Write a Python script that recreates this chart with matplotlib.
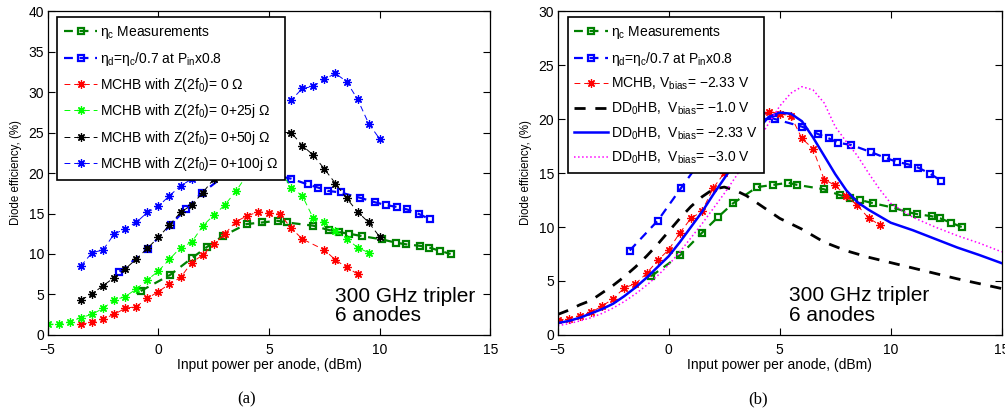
import matplotlib
matplotlib.use("Agg")
import matplotlib.pyplot as plt

plt.rcParams['font.family'] = ['Liberation Sans', 'DejaVu Sans']
plt.rcParams['mathtext.fontset'] = 'custom'
plt.rcParams['mathtext.rm'] = 'Liberation Sans'
plt.rcParams['mathtext.it'] = 'Liberation Sans'
plt.rcParams['mathtext.bf'] = 'Liberation Sans:bold'

# ---- measured data (shared by both panels) ----
meas_pin = [-0.80, 0.52, 1.50, 2.21, 2.90, 3.98, 4.70, 5.38, 5.79, 6.99, 7.70,
            8.17, 8.62, 9.22, 10.10, 10.73, 11.18, 11.84, 12.23, 12.71, 13.20]
meas_eta_c = [5.43, 7.40, 9.47, 10.9, 12.2, 13.7, 13.9, 14.1, 13.9, 13.5, 12.96,
              12.7, 12.5, 12.2, 11.8, 11.4, 11.2, 11.0, 10.8, 10.4, 10.0]

diode_pin = [-1.76, -0.49, 0.55, 1.25, 1.95, 3.00, 3.76, 4.44, 4.78, 6.00, 6.74,
             7.22, 7.64, 8.23, 9.10, 9.77, 10.27, 10.80, 11.24, 11.77, 12.26]
diode_eta_d = [7.82, 10.6, 13.6, 15.6, 17.5, 19.7, 20.1, 20.3, 20.0, 19.3, 18.6,
               18.2, 17.8, 17.6, 16.95, 16.4, 16.05, 15.8, 15.5, 14.94, 14.3]

# ---- (a) MCHB simulations for different second-harmonic impedances ----
pin_z0 = [-3.5, -3.0, -2.5, -2.0, -1.5, -1.0, -0.5, 0.0, 0.5, 1.0, 1.5, 2.0, 2.5,
          3.0, 3.5, 4.0, 4.5, 5.0, 5.5, 6.0, 6.5, 7.5, 8.0, 8.5, 9.0]
eff_z0 = [1.32, 1.56, 1.98, 2.55, 3.29, 3.5, 4.53, 5.35, 6.3, 7.1, 8.93, 9.88, 11.2,
          12.47, 14.0, 14.7, 15.2, 15.1, 14.9, 13.2, 11.85, 10.5, 9.26, 8.35, 7.53]

pin_z25 = [-5.0, -4.5, -4.0, -3.5, -3.0, -2.5, -2.0, -1.5, -1.0, -0.5, 0.0, 0.5,
           1.0, 1.5, 2.0, 2.5, 3.0, 3.5, 4.0, 4.5, 5.0, 5.5, 6.0, 6.5, 7.0, 7.5,
           8.0, 8.5, 9.0, 9.5]
eff_z25 = [1.32, 1.32, 1.65, 2.14, 2.55, 3.29, 4.32, 4.73, 5.68, 6.79, 7.9, 9.34,
           10.8, 11.44, 13.46, 14.8, 16.05, 17.75, 19.75, 20.0, 20.45, 20.3, 18.2,
           17.2, 14.4, 13.9, 12.8, 11.9, 10.8, 10.16]

pin_z50 = [-3.5, -3.0, -2.5, -2.0, -1.5, -1.0, -0.5, 0.0, 0.5, 1.0, 1.5, 2.0, 2.5,
           3.0, 3.5, 4.0, 4.5, 5.0, 5.5, 6.0, 6.5, 7.0, 7.5, 8.0, 8.5, 9.0, 9.5, 10.0]
eff_z50 = [4.32, 5.06, 6.09, 7.08, 8.15, 9.38, 10.7, 12.06, 13.58, 15.14, 16.05,
           17.57, 19.26, 20.9, 22.0, 24.3, 24.7, 25.0, 25.0, 25.0, 23.4, 22.2, 20.5,
           18.7, 16.9, 15.2, 13.9, 12.1]

pin_z100 = pin_z50
eff_z100 = [8.52, 10.16, 10.5, 12.47, 13.1, 13.9, 15.14, 15.9, 17.2, 18.4, 19.26,
            20.9, 22.1, 23.0, 23.95, 24.4, 26.3, 26.7, 28.4, 29.0, 30.45, 30.7,
            31.6, 32.3, 31.3, 29.1, 26.1, 24.2]

# ---- (b) MCHB and DD0HB simulations versus bias ----
pin_mchb = [-5.0, -4.5, -4.0, -3.5, -3.0, -2.5, -2.0, -1.5, -1.0, -0.5, 0.0, 0.5,
            1.0, 1.5, 2.0, 2.5, 3.0, 3.5, 4.0, 4.5, 5.0, 5.5, 6.0, 6.5, 7.0, 7.5,
            8.0, 8.5, 9.0, 9.5]
eff_mchb = [1.39, 1.5, 1.8, 2.1, 2.68, 3.36, 4.37, 4.74, 5.7, 6.9, 7.9, 9.46, 10.8,
            11.46, 13.6, 15.0, 15.9, 17.8, 19.9, 20.7, 20.5, 20.3, 18.2, 17.25,
            14.4, 13.86, 12.85, 12.0, 10.84, 10.2]

pin_dd = [-5.0, -4.5, -4.0, -3.5, -3.0, -2.5, -2.0, -1.5, -1.0, -0.5, 0.0, 0.5,
          1.0, 1.5, 2.0, 2.5, 3.0, 3.5, 4.0, 4.5, 5.0, 5.5, 6.0, 6.5, 7.0, 7.5,
          8.0, 8.5, 9.0, 9.5, 10.0, 11.0, 12.0, 13.0, 14.0, 15.0]
eff_dd_v10 = [1.9, 2.3, 2.8, 3.2, 3.9, 4.6, 5.4, 6.3, 7.3, 8.4, 9.6, 10.8, 11.9,
              12.8, 13.5, 13.7, 13.4, 12.9, 12.2, 11.5, 10.8, 10.3, 9.8, 9.2, 8.6,
              8.2, 7.8, 7.5, 7.2, 6.95, 6.7, 6.2, 5.7, 5.2, 4.75, 4.3]
eff_dd_v233 = [1.1, 1.3, 1.6, 2.0, 2.4, 2.9, 3.6, 4.4, 5.3, 6.3, 7.3, 8.6, 10.0,
               11.4, 13.0, 14.5, 16.0, 17.6, 19.0, 20.2, 20.6, 20.5, 19.8, 18.3,
               16.6, 14.9, 13.4, 12.3, 11.6, 11.0, 10.4, 9.7, 8.9, 8.1, 7.4, 6.65]
eff_dd_v30 = [0.85, 1.05, 1.3, 1.6, 2.0, 2.5, 3.1, 3.8, 4.6, 5.5, 6.5, 7.7, 9.0,
              10.3, 11.7, 13.1, 14.6, 16.2, 17.9, 19.6, 21.2, 22.4, 23.0, 22.7,
              21.5, 19.3, 17.9, 16.6, 15.0, 13.5, 12.2, 10.9, 10.0, 9.2, 8.5, 7.7]

x_ticks = [-5, 0, 5, 10, 15]

DKGREEN = (0.0, 0.5, 0.0)
BLUE = (0.0, 0.0, 1.0)
RED = (1.0, 0.0, 0.0)
LTGREEN = (0.0, 1.0, 0.0)
MAGENTA = (1.0, 0.0, 1.0)
ASTER = (8, 2, 0)

fig = plt.figure(figsize=(10.05, 4.12), dpi=100)
ax1 = fig.add_axes([0.0475, 0.187, 0.4405, 0.786])
ax2 = fig.add_axes([0.555, 0.187, 0.4417, 0.786])

meas_kw = dict(ls='--', lw=1.6, marker='s', ms=5, mfc='none', mew=1.6,
               dashes=(4, 3))
sim_kw = dict(ls='--', lw=0.7, marker=ASTER, ms=6, mew=0.9, dashes=(6, 4))

# (a)
ax1.plot(meas_pin, meas_eta_c, color=DKGREEN, label=r'$\eta_{\rm c}$ Measurements', **meas_kw)
ax1.plot(diode_pin, diode_eta_d, color=BLUE,
         label=r'$\eta_{\rm d}$=$\eta_{\rm c}$/0.7 at P$_{\rm in}$x0.8', **meas_kw)
ax1.plot(pin_z0, eff_z0, color=RED, label='MCHB with Z(2f$_0$)= 0 Ω', **sim_kw)
ax1.plot(pin_z25, eff_z25, color=LTGREEN, label='MCHB with Z(2f$_0$)= 0+25j Ω', **sim_kw)
ax1.plot(pin_z50, eff_z50, color='black', label='MCHB with Z(2f$_0$)= 0+50j Ω', **sim_kw)
ax1.plot(pin_z100, eff_z100, color=BLUE, label='MCHB with Z(2f$_0$)= 0+100j Ω', **sim_kw)
ax1.set_ylim(0, 40)
ax1.set_yticks(range(0, 41, 5))
ax1.text(7.97, 5.96, '300 GHz tripler\n6 anodes', fontsize=15, va='top', ha='left',
         linespacing=1.05)

# (b)
ax2.plot(meas_pin, meas_eta_c, color=DKGREEN, label=r'$\eta_{\rm c}$ Measurements', **meas_kw)
ax2.plot(diode_pin, diode_eta_d, color=BLUE,
         label=r'$\eta_{\rm d}$=$\eta_{\rm c}$/0.7 at P$_{\rm in}$x0.8', **meas_kw)
ax2.plot(pin_mchb, eff_mchb, color=RED,
         label='MCHB, V$_{\\rm bias}$= \u22122.33 V', **sim_kw)
ax2.plot(pin_dd, eff_dd_v10, color='black', ls='--', lw=2.0, dashes=(4, 3.5),
         label='DD$_0$HB,  V$_{\\rm bias}$= \u22121.0 V')
ax2.plot(pin_dd, eff_dd_v233, color=BLUE, ls='-', lw=1.8,
         label='DD$_0$HB,  V$_{\\rm bias}$= \u22122.33 V')
ax2.plot(pin_dd, eff_dd_v30, color=MAGENTA, ls=':', lw=1.1,
         label='DD$_0$HB,  V$_{\\rm bias}$= \u22123.0 V')
ax2.set_ylim(0, 30)
ax2.set_yticks(range(0, 31, 5))
ax2.text(5.43, 4.53, '300 GHz tripler\n6 anodes', fontsize=15, va='top', ha='left',
         linespacing=1.05)

for ax, lx in ((ax1, 0.021), (ax2, 0.022)):
    ax.set_xlim(-5, 15)
    ax.set_xticks(x_ticks)
    ax.tick_params(direction='in', top=True, right=True, length=5, width=0.8,
                   labelsize=10)
    ax.tick_params(axis='x', pad=6)
    ax.tick_params(axis='y', pad=2.5)
    for s in ax.spines.values():
        s.set_linewidth(0.9)
    ax.set_xlabel('Input power per anode, (dBm)', fontsize=10)
    ax.set_ylabel('Diode efficiency, (%)', fontsize=8.3)
    ax.xaxis.set_label_coords(0.5, -0.07)
    ax.yaxis.set_label_coords(-0.058, 0.5)
    leg = ax.legend(loc='upper left', bbox_to_anchor=(lx, 0.981), borderaxespad=0,
                    fontsize=10, handlelength=2.4, handletextpad=0.2,
                    labelspacing=0.6, fancybox=False, framealpha=1,
                    edgecolor='black', borderpad=0.5, numpoints=1)
    leg.get_frame().set_linewidth(1.2)

fig.text(247 / 1005, 1 - 399 / 412, '(a)', family=['Liberation Serif', 'DejaVu Serif'],
         fontsize=12, ha='center', va='center')
fig.text(758 / 1005, 1 - 399 / 412, '(b)', family=['Liberation Serif', 'DejaVu Serif'],
         fontsize=12, ha='center', va='center')

fig.savefig('out.png', dpi=100)
